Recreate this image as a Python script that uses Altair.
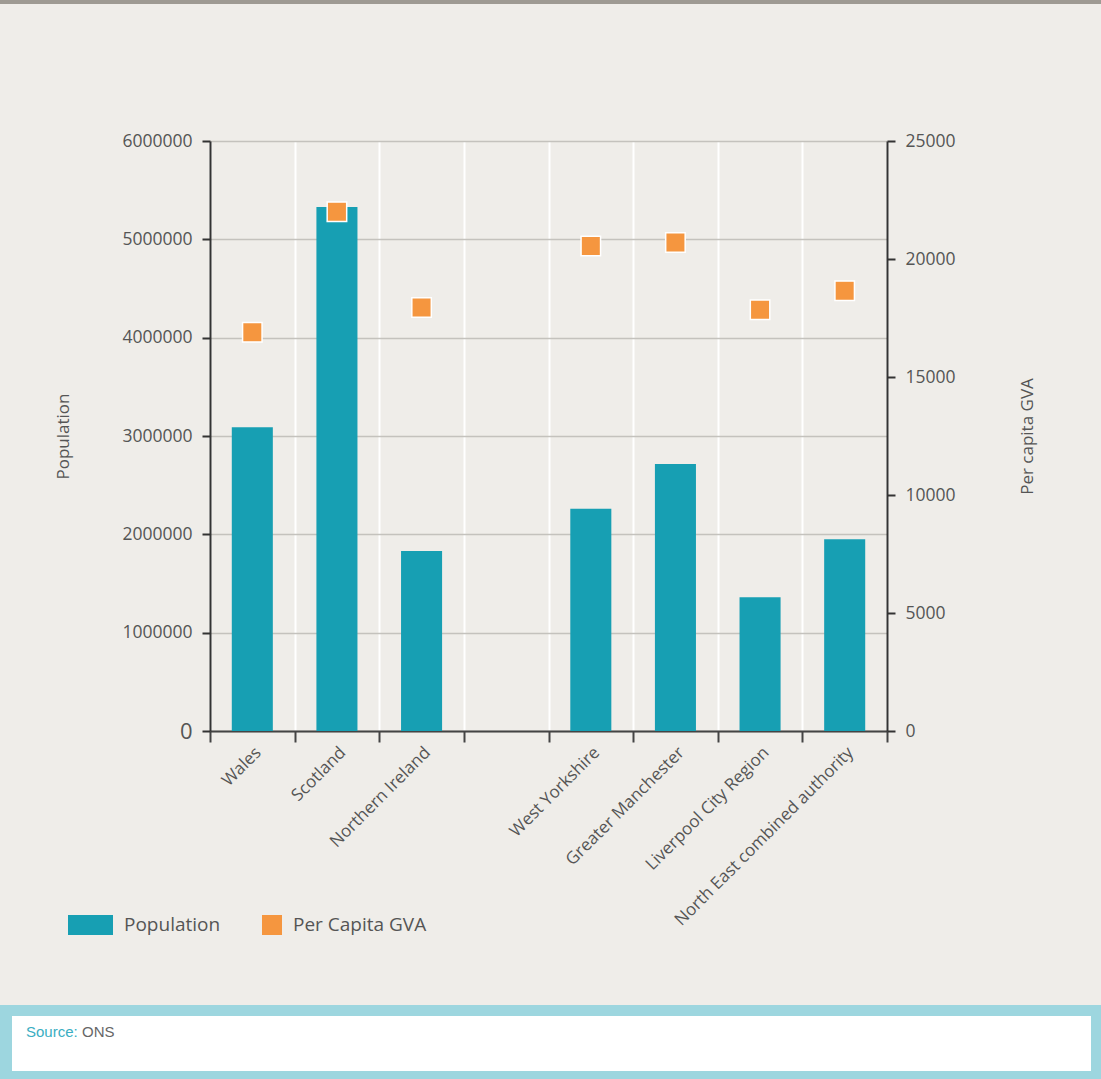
import altair as alt
import pandas as pd

# ---- data ----
categories = ["Wales", "Scotland", "Northern Ireland", "", "West Yorkshire",
              "Greater Manchester", "Liverpool City Region", "North East combined authority"]
regions = ["Wales", "Scotland", "Northern Ireland", "West Yorkshire",
           "Greater Manchester", "Liverpool City Region", "North East combined authority"]
population = [3090000, 5330000, 1830000, 2260000, 2715000, 1360000, 1950000]
per_capita_gva = [16900, 22000, 17950, 20550, 20700, 17850, 18650]
series_names = ["Population", "Per Capita GVA"]
pop_ticks = [0, 1000000, 2000000, 3000000, 4000000, 5000000, 6000000]
gva_ticks = [0, 5000, 10000, 15000, 20000, 25000]

TEAL = "#179fb3"
ORANGE = "#f5963f"
TXT = "#555555"
FONT = "Open Sans"

pop_df = pd.DataFrame({"region": regions, "value": population, "series": "Population"})
gva_df = pd.DataFrame({"region": regions, "value": per_capita_gva, "series": "Per Capita GVA"})


def x_axis():
    return alt.Axis(
        title=None, tickBand="extent", labelAngle=-45, labelAlign="right",
        labelBaseline="top", labelPadding=2, labelFontSize=17, labelColor=TXT,
        labelFont=FONT, tickSize=11, tickWidth=2, tickColor="#444444",
        domainColor="#444444", domainWidth=2, grid=True, gridColor="#ffffff",
        gridWidth=2, labelLimit=400,
    )


def x_enc():
    return alt.X(
        "region:N",
        sort=categories,
        scale=alt.Scale(domain=categories, paddingInner=0, paddingOuter=0),
        axis=x_axis(),
    )


color_scale = alt.Scale(domain=series_names, range=[TEAL, ORANGE])
legend = alt.Legend(
    title=None, orient="none", legendX=-118, legendY=773, direction="horizontal",
    symbolSize=400, labelFontSize=19, labelColor=TXT, labelFont=FONT,
    labelOffset=10, columnPadding=38, symbolStrokeColor="white",
    symbolStrokeWidth=1.5, padding=0, symbolOpacity=1,
)

bars = alt.Chart(pop_df).mark_bar(
    width=alt.RelativeBandSize(0.485), opacity=1
).encode(
    x=x_enc(),
    y=alt.Y(
        "value:Q",
        scale=alt.Scale(domain=[0, 6000000], nice=False),
        axis=alt.Axis(
            orient="left", title="Population", values=pop_ticks, format="d",
            labelFontSize=alt.condition("datum.value == 0", alt.value(22), alt.value(17.5)),
            labelColor=TXT, labelFont=FONT, labelPadding=10, tickSize=8, tickWidth=2,
            tickColor="#333333", domainColor="#333333", domainWidth=2,
            grid=True, gridColor="#c4c2bd", gridWidth=1.5,
            titleFont=FONT, titleFontSize=17, titleFontWeight="normal", titleColor=TXT,
            titleAngle=270, titleX=-147, titleY=295, titleAlign="center",
            titleBaseline="middle",
        ),
    ),
    color=alt.Color("series:N", scale=color_scale, legend=legend),
)

shape_scale = alt.Scale(domain=series_names,
                        range=["M-3.5,-1H1V1H-3.5Z", "square"])

points = alt.Chart(gva_df).mark_point(
    filled=True, size=380, opacity=1, stroke="white", strokeWidth=1.5,
).encode(
    x=x_enc(),
    y=alt.Y(
        "value:Q",
        scale=alt.Scale(domain=[0, 25000], nice=False),
        axis=alt.Axis(
            orient="right", title="Per capita GVA", values=gva_ticks, format="d",
            labelFontSize=17.5, labelColor=TXT, labelFont=FONT, labelPadding=10,
            tickSize=8, tickWidth=2, tickColor="#333333", domainColor="#333333",
            domainWidth=2, grid=False,
            titleFont=FONT, titleFontSize=17, titleFontWeight="normal", titleColor=TXT,
            titleAngle=270, titleX=140, titleY=295, titleAlign="center",
            titleBaseline="middle",
        ),
    ),
    color=alt.Color("series:N", scale=color_scale, legend=legend),
    shape=alt.Shape("series:N", scale=shape_scale, legend=legend),
    fill=alt.Fill("series:N", scale=color_scale, legend=legend),
)

one = pd.DataFrame({"k": [0]})

top_bar = alt.Chart(one).mark_rect(color="#9e9a93").encode(
    x=alt.value(-210), x2=alt.value(891), y=alt.value(-141), y2=alt.value(-137)
)
src_outer = alt.Chart(one).mark_rect(color="#9dd6df").encode(
    x=alt.value(-210), x2=alt.value(891), y=alt.value(864), y2=alt.value(938)
)
src_inner = alt.Chart(one).mark_rect(color="#ffffff").encode(
    x=alt.value(-198), x2=alt.value(881), y=alt.value(875), y2=alt.value(930)
)
src_label = alt.Chart(one).mark_text(
    text="Source:", font="Liberation Sans", fontSize=15, color="#3aaec2",
    align="left", baseline="middle",
).encode(x=alt.value(-184), y=alt.value(891))
src_value = alt.Chart(one).mark_text(
    text="ONS", font="Liberation Sans", fontSize=15, color="#666666",
    align="left", baseline="middle",
).encode(x=alt.value(-128), y=alt.value(891))

chart = alt.layer(
    bars, points, top_bar, src_outer, src_inner, src_label, src_value
).resolve_scale(y="independent").properties(
    width=677, height=590,
    autosize=alt.AutoSizeParams(type="none"),
    padding={"left": 210, "top": 141, "right": 214, "bottom": 348},
    background="#efede9",
).configure_view(stroke=None)

chart.save("out.html", embed_options={"renderer": "svg", "actions": False})
